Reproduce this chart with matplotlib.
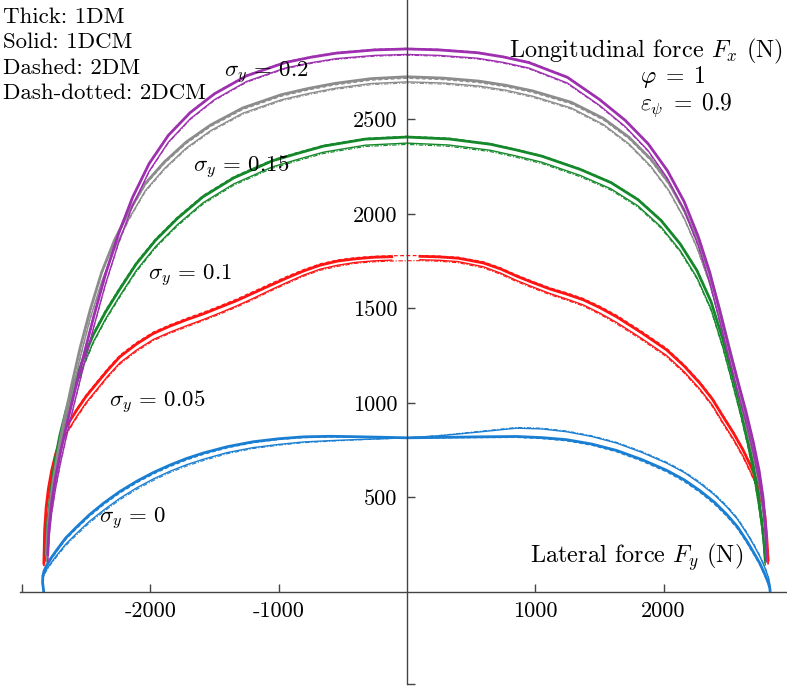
import numpy as np
import matplotlib
matplotlib.use("Agg")
import matplotlib.pyplot as plt

plt.rcParams['font.family'] = 'serif'
plt.rcParams['font.serif'] = ['cmr10']
plt.rcParams['mathtext.fontset'] = 'cm'
plt.rcParams['axes.unicode_minus'] = False

# ---- data: lateral force Fy (x) and longitudinal force Fx (y), N ----
# sigma_y = 0.2 (purple)
x_p = [-2800, -2790, -2770, -2740, -2700, -2650, -2590, -2520, -2440, -2350, -2250, -2140, -2010, -1860,
       -1690, -1500, -1250, -950, -750, -550, -250, 0, 250, 550, 750, 950, 1250, 1500, 1700, 1880, 2030,
       2160, 2270, 2360, 2440, 2510, 2580, 2640, 2700, 2745, 2775, 2795, 2805]
p_1dm = [200, 340, 470, 600, 740, 890, 1060, 1250, 1460, 1680, 1890, 2085, 2265, 2415,
         2535, 2635, 2730, 2800, 2828, 2850, 2867, 2872, 2867, 2852, 2830, 2800, 2722, 2605, 2495, 2370, 2228,
         2065, 1880, 1690, 1480, 1290, 1110, 960, 790, 640, 500, 350, 200]
p_1dcm = [160, 290, 415, 545, 685, 835, 1005, 1195, 1405, 1628, 1842, 2041, 2225, 2379,
          2502, 2604, 2700, 2771, 2799, 2821, 2838, 2843, 2838, 2823, 2801, 2771, 2692, 2574, 2462, 2334, 2188,
          2021, 1832, 1638, 1425, 1235, 1055, 905, 735, 585, 450, 305, 160]
p_2dm = [198, 338, 468, 598, 739, 889, 1060, 1251, 1462, 1683, 1893, 2088, 2268, 2418,
         2538, 2638, 2733, 2803, 2831, 2853, 2870, 2875, 2870, 2855, 2833, 2803, 2725, 2607, 2497, 2372, 2230,
         2066, 1881, 1690, 1480, 1289, 1108, 958, 788, 638, 498, 348, 198]
p_2dcm = [157, 287, 411, 541, 681, 831, 1001, 1191, 1401, 1624, 1838, 2037, 2221, 2375,
          2498, 2600, 2696, 2767, 2795, 2817, 2834, 2839, 2834, 2819, 2797, 2767, 2688, 2570, 2458, 2330, 2184,
          2017, 1828, 1634, 1421, 1231, 1051, 901, 731, 581, 446, 301, 157]

# sigma_y = 0.15 (grey)
x_g = [-2810, -2800, -2782, -2755, -2718, -2672, -2615, -2548, -2470, -2380, -2280, -2170, -2040, -1890,
       -1720, -1530, -1280, -980, -770, -560, -280, 0, 280, 560, 770, 980, 1280, 1530, 1730, 1900, 2040,
       2160, 2265, 2355, 2435, 2505, 2575, 2635, 2695, 2742, 2773, 2793, 2805]
g_1dm = [200, 330, 460, 600, 750, 910, 1090, 1290, 1490, 1690, 1860, 2010, 2160, 2275,
         2380, 2470, 2560, 2630, 2663, 2690, 2715, 2725, 2718, 2702, 2680, 2650, 2590, 2505, 2405, 2290, 2165,
         2020, 1860, 1690, 1500, 1310, 1120, 950, 780, 630, 490, 340, 200]
g_1dcm = [160, 285, 410, 548, 697, 857, 1037, 1238, 1445, 1640, 1815, 1970, 2122, 2240,
          2348, 2440, 2532, 2603, 2636, 2664, 2689, 2698, 2692, 2676, 2654, 2622, 2560, 2473, 2370, 2252, 2125,
          1978, 1815, 1642, 1450, 1260, 1070, 900, 730, 580, 445, 300, 160]
g_2dm = [196, 326, 455, 594, 743, 903, 1083, 1283, 1482, 1682, 1852, 2002, 2152, 2267,
         2372, 2462, 2552, 2622, 2655, 2682, 2707, 2717, 2710, 2694, 2672, 2642, 2582, 2497, 2397, 2282, 2157,
         2012, 1852, 1682, 1492, 1303, 1114, 944, 775, 625, 486, 336, 196]
g_2dcm = [155, 280, 404, 542, 691, 851, 1031, 1232, 1439, 1634, 1809, 1964, 2116, 2234,
          2342, 2434, 2526, 2597, 2630, 2658, 2683, 2692, 2686, 2670, 2648, 2616, 2554, 2467, 2364, 2246, 2119,
          1972, 1809, 1636, 1444, 1254, 1064, 894, 724, 574, 439, 294, 155]

# sigma_y = 0.1 (green)
x_gr = [-2815, -2808, -2795, -2775, -2745, -2705, -2655, -2595, -2525, -2445, -2350, -2240, -2110, -1960,
        -1790, -1590, -1350, -1050, -850, -650, -325, 0, 325, 650, 850, 1050, 1350, 1590, 1800, 1980, 2130,
        2260, 2370, 2460, 2535, 2600, 2655, 2700, 2738, 2765, 2782, 2792]
gr_1dm = [200, 310, 410, 530, 690, 830, 965, 1100, 1230, 1360, 1480, 1600, 1735, 1860,
          1975, 2090, 2190, 2280, 2320, 2358, 2395, 2406, 2396, 2368, 2338, 2305, 2235, 2165, 2075, 1965, 1840,
          1700, 1535, 1340, 1150, 980, 820, 670, 510, 380, 270, 170]
gr_1dcm = [165, 272, 370, 488, 645, 788, 925, 1060, 1192, 1322, 1443, 1564, 1700, 1826,
           1942, 2058, 2158, 2248, 2288, 2326, 2363, 2374, 2364, 2336, 2306, 2273, 2203, 2132, 2042, 1931, 1805,
           1663, 1496, 1300, 1110, 940, 780, 630, 472, 345, 238, 145]
gr_2dm = [198, 308, 410, 532, 693, 834, 970, 1106, 1237, 1368, 1488, 1608, 1742, 1867,
          1982, 2096, 2196, 2285, 2325, 2362, 2399, 2410, 2400, 2371, 2341, 2308, 2238, 2168, 2079, 1969, 1844,
          1704, 1538, 1342, 1151, 980, 820, 670, 509, 379, 269, 168]
gr_2dcm = [160, 266, 364, 482, 638, 781, 918, 1053, 1185, 1315, 1436, 1557, 1693, 1819,
           1935, 2051, 2151, 2241, 2281, 2319, 2356, 2367, 2357, 2329, 2299, 2266, 2196, 2125, 2035, 1924, 1798,
           1656, 1489, 1293, 1103, 933, 773, 623, 466, 340, 233, 140]

# sigma_y = 0.05 (red); the solid curves leave a gap around Fy = 0
x_r = [-2830, -2824, -2812, -2795, -2770, -2740, -2705, -2650, -2574, -2500, -2418, -2330, -2237, -2110,
       -1977, -1850, -1717, -1590, -1460, -1330, -1200, -1070, -938, -808, -678, -540, -400, -260, -119,
       0, 101, 250, 400, 595, 730, 855, 985, 1115, 1245, 1374, 1505, 1634, 1830, 2024, 2160, 2284, 2380,
       2465, 2545, 2620, 2680, 2736, 2768, 2790, 2805, 2815]
r_1dm = [152, 330, 450, 545, 640, 725, 800, 880, 962, 1035, 1103, 1175, 1244, 1310,
         1367, 1405, 1440, 1470, 1505, 1540, 1580, 1620, 1660, 1697, 1728, 1750, 1762, 1770, 1773,
         np.nan, 1775, 1772, 1765, 1740, 1708, 1670, 1635, 1602, 1575, 1545, 1503, 1455, 1370, 1280, 1195, 1103, 1020,
         926, 840, 750, 665, 574, 490, 400, 280, 168]
r_1dcm = [140, 310, 425, 515, 605, 690, 765, 845, 928, 1002, 1070, 1143, 1212, 1278,
          1335, 1373, 1408, 1440, 1475, 1512, 1552, 1595, 1636, 1675, 1707, 1728, 1743, 1751, 1755,
          np.nan, 1757, 1754, 1747, 1720, 1686, 1647, 1612, 1578, 1549, 1518, 1474, 1425, 1340, 1250, 1165, 1072, 988,
          893, 808, 718, 633, 543, 460, 372, 255, 150]
r_2dm = [150, 328, 448, 545, 642, 728, 804, 885, 968, 1042, 1110, 1183, 1252, 1318,
         1374, 1412, 1447, 1478, 1512, 1548, 1588, 1628, 1668, 1704, 1735, 1756, 1768, 1775, 1778,
         1779, 1779, 1776, 1770, 1746, 1714, 1676, 1641, 1608, 1582, 1552, 1510, 1463, 1378, 1288, 1202, 1110, 1026,
         932, 845, 755, 669, 577, 492, 401, 280, 166]
r_2dcm = [136, 306, 420, 510, 600, 684, 759, 838, 921, 995, 1063, 1136, 1205, 1271,
          1329, 1367, 1402, 1434, 1469, 1506, 1546, 1589, 1630, 1669, 1701, 1722, 1738, 1746, 1750,
          1752, 1752, 1749, 1741, 1714, 1680, 1641, 1606, 1572, 1543, 1512, 1468, 1418, 1333, 1243, 1158, 1065, 981,
          886, 801, 711, 626, 537, 454, 366, 250, 145]

# sigma_y = 0 (blue)
x_b = [-2832, -2840, -2838, -2828, -2808, -2775, -2730, -2660, -2574, -2475, -2365, -2240, -2107, -1975,
       -1847, -1720, -1590, -1400, -1200, -1000, -808, -600, -418, -200, 0, 260, 550, 855, 1050, 1245,
       1440, 1634, 1830, 2024, 2160, 2284, 2395, 2492, 2575, 2648, 2705, 2751, 2788, 2815, 2828, 2830]
b_1dm = [5, 50, 85, 112, 140, 178, 221, 285, 344, 408, 469, 530, 585, 632,
         671, 705, 734, 768, 794, 810, 820, 823, 821, 818, 815, 817, 820, 822, 816, 805,
         782, 748, 700, 643, 593, 535, 475, 410, 345, 270, 205, 150, 95, 50, 20, 5]
b_1dcm = [5, 40, 70, 95, 120, 153, 193, 252, 310, 373, 432, 494, 550, 598,
          638, 672, 701, 737, 763, 780, 793, 800, 805, 810, 815, 826, 845, 866, 862, 847,
          822, 787, 738, 681, 632, 574, 514, 450, 385, 310, 245, 186, 130, 80, 40, 5]
b_2dm = [5, 47, 81, 107, 134, 171, 214, 277, 336, 400, 461, 522, 577, 624,
         663, 697, 727, 762, 789, 806, 816, 819, 818, 816, 815, 815, 816, 817, 811, 799,
         776, 741, 692, 635, 584, 526, 465, 400, 335, 261, 196, 142, 88, 45, 17, 5]
b_2dcm = [5, 36, 65, 90, 114, 147, 186, 244, 302, 365, 424, 486, 542, 590,
          631, 665, 694, 731, 758, 776, 789, 797, 803, 809, 815, 828, 848, 870, 866, 851,
          826, 791, 743, 686, 637, 580, 520, 456, 391, 316, 251, 192, 136, 86, 45, 5]

families = [
    (x_b, b_1dm, b_1dcm, b_2dm, b_2dcm, '#1a7fd2'),
    (x_r, r_1dm, r_1dcm, r_2dm, r_2dcm, '#ff1414'),
    (x_gr, gr_1dm, gr_1dcm, gr_2dm, gr_2dcm, '#14882a'),
    (x_g, g_1dm, g_1dcm, g_2dm, g_2dcm, '#8c8c8c'),
    (x_p, p_1dm, p_1dcm, p_2dm, p_2dcm, '#9e30b0'),
]

fig = plt.figure(figsize=(7.87, 6.93), dpi=100)
ax = fig.add_axes([0, 0, 1, 1])

for xs, y1, y2, y3, y4, c in families:
    ax.plot(xs, y1, color=c, lw=2.0, solid_joinstyle='round')
    ax.plot(xs, y2, color=c, lw=1.0, solid_joinstyle='round')
    ax.plot(xs, y3, color=c, lw=0.9, ls=(0, (3, 2)))
    ax.plot(xs, y4, color=c, lw=0.8, ls=(0, (4, 1.5, 1, 1.5)))

ax.set_xlim(-3172, 2962)
ax.set_ylim(-535, 3131)

for s in ['top', 'right']:
    ax.spines[s].set_visible(False)
ax.spines['left'].set_position(('data', 0))
ax.spines['bottom'].set_position(('data', 0))
ax.spines['left'].set_bounds(-490, 3131)
ax.spines['bottom'].set_bounds(-3016, 2962)
for s in ['left', 'bottom']:
    ax.spines[s].set_color('#444444')
    ax.spines[s].set_linewidth(1.0)

ax.set_xticks([-3000, -2000, -1000, 1000, 2000])
ax.set_xticklabels(['', '-2000', '-1000', '1000', '2000'])
ax.set_yticks([-490, 500, 1000, 1500, 2000, 2500])
ax.set_yticklabels(['', '500', '1000', '1500', '2000', '2500'])
ax.tick_params(direction='in', length=5.7, width=1.0, color='#444444', labelsize=16, pad=7)

W, H = 787.0, 693.0
def put(x, y, s, fs=17):
    fig.text(x / W, 1 - y / H, s, fontsize=fs, va='baseline', ha='left')

put(3, 23, 'Thick: 1DM', 16.5)
put(3, 48, 'Solid: 1DCM', 16.5)
put(3, 74, 'Dashed: 2DM', 16.5)
put(3, 99, 'Dash-dotted: 2DCM', 16.5)
put(509, 57, r'Longitudinal force $F_x$ (N)', 17.5)
put(640, 83, r'$\varphi\;=\;1$')
put(640, 110, r'$\varepsilon_\psi\;=\;0.9$')
put(530, 563, r'Lateral force $F_y$ (N)', 17.5)
put(224, 77, r'$\sigma_y\,=\,0.2$', 16.5)
put(193, 172, r'$\sigma_y\,=\,0.15$', 16.5)
put(148, 280, r'$\sigma_y\,=\,0.1$', 16.5)
put(109, 407, r'$\sigma_y\,=\,0.05$', 16.5)
put(99, 523, r'$\sigma_y\,=\,0$', 16.5)

fig.savefig('out.png', dpi=100)
